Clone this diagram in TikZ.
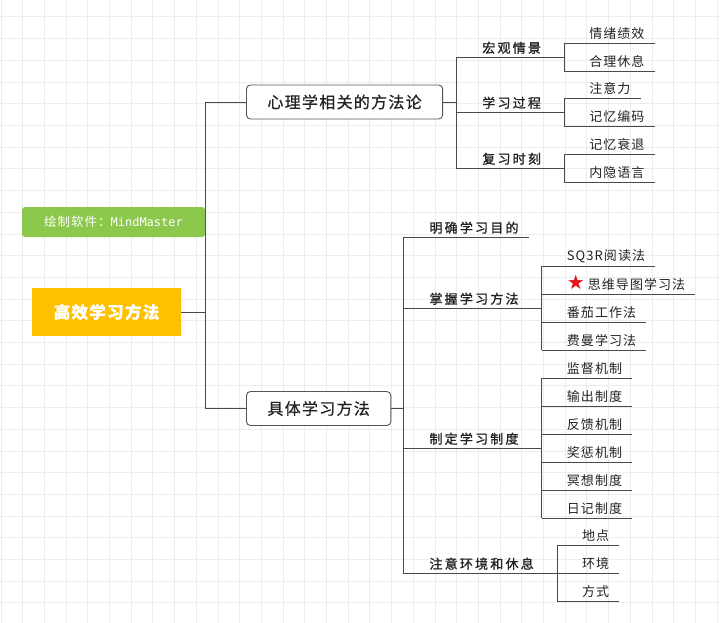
\documentclass[tikz,border=0pt]{standalone}
\usepackage{fontspec}
\usepackage{xcolor}
\usetikzlibrary{positioning, calc}
\newfontfamily\cjk[LetterSpace=8]{Noto Sans CJK SC}
\newfontfamily\cjktopic[LetterSpace=8, FakeBold=0.6]{Noto Sans CJK SC}
\newfontfamily\cjkbranch[LetterSpace=17, FakeBold=1.2]{Noto Sans CJK SC}
\newfontfamily\cjkleaf[LetterSpace=8]{Noto Sans CJK SC}
\newfontfamily\symfont{DejaVu Sans}
\setmonofont{DejaVu Sans Mono}
\definecolor{gridgray}{HTML}{EDEDED}
\definecolor{wiregray}{HTML}{4A4A4A}
\definecolor{boxgray}{HTML}{555555}
\definecolor{textdark}{HTML}{222222}
\definecolor{rootorange}{HTML}{FFC000}
\definecolor{notegreen}{HTML}{8CC84B}
\definecolor{starred}{HTML}{E3141E}

\begin{document}
\begin{tikzpicture}[x=1pt, y=-1pt,
  gridline/.style={draw=gridgray, line width=1pt},
  wire/.style={draw=wiregray, line width=0.9pt},
  rootbox/.style={fill=rootorange, text=white, minimum width=149pt,
    minimum height=48pt, font=\cjktopic\bfseries\fontsize{16.5}{18}\selectfont},
  notebox/.style={fill=notegreen, text=white, rounded corners=3pt,
    minimum width=183pt, minimum height=30pt, font=\cjk\fontsize{12.5}{14}\selectfont},
  mainbox/.style={draw=boxgray, line width=0.9pt, rounded corners=4pt, fill=white,
    inner xsep=21pt, minimum height=34pt, text=textdark,
    font=\cjktopic\fontsize{16}{18}\selectfont},
  branch/.style={anchor=south west, inner xsep=0pt, inner ysep=3pt, text=textdark,
    font=\cjkbranch\fontsize{13}{15}\selectfont,
    execute at begin node=\hspace*{26pt}, execute at end node=\hspace*{#1}},
  branch/.default=23pt,
  leaf/.style={anchor=south west, inner xsep=0pt, inner ysep=3pt, text=textdark,
    font=\cjkleaf\fontsize{13}{15}\selectfont,
    execute at begin node=\hspace*{25pt}, execute at end node=\hspace*{10pt}}
]
\useasboundingbox (0,0) rectangle (720,623);
% background grid
\foreach \i in {0,...,33}
  \draw[gridline] (1+21.7*\i,0) -- (1+21.7*\i,623);
\foreach \j in {0,...,29}
  \draw[gridline] (0,-4.7+21.7*\j) -- (720,-4.7+21.7*\j);

% main topics
\node[rootbox] (root) at (106.5,312) {高效学习方法};
\node[mainbox, anchor=west] (psy) at (246,102) {心理学相关的方法论};
\node[mainbox, anchor=west] (prac) at (246,408.5) {具体学习方法};
\coordinate (hub) at ([xshift=24pt]root.east);
\coordinate (psyfork) at ([xshift=13pt]psy.east);
\coordinate (pracfork) at ([xshift=12pt]prac.east);

% psychology branch
\node[branch] (macro) at (psyfork |- 0,57) {宏观情景};
\node[branch] (process) at (psyfork |- 0,112) {学习过程};
\node[branch] (review) at (psyfork |- 0,168) {复习时刻};
\node[leaf, yshift=14pt] (mood) at (macro.south east) {情绪绩效};
\node[leaf, yshift=-14pt] (relax) at (macro.south east) {合理休息};
\node[leaf, yshift=14pt] (focus) at (process.south east) {注意力};
\node[leaf, yshift=-14pt] (encode) at (process.south east) {记忆编码};
\node[leaf, yshift=14pt] (decay) at (review.south east) {记忆衰退};
\node[leaf, yshift=-14pt] (inner) at (review.south east) {内隐语言};

% practice branch
\node[branch=10pt] (goal) at (pracfork |- 0,237) {明确学习目的};
\node[branch] (master) at (pracfork |- 0,308) {掌握学习方法};
\node[branch] (system) at (pracfork |- 0,448) {制定学习制度};
\node[branch] (rest) at (pracfork |- 0,573) {注意环境和休息};
\node[leaf, yshift=42pt] (sqr) at (master.south east) {SQ3R阅读法};
\node[leaf, yshift=14pt] (mindmap) at (master.south east)
  {\smash{\textcolor{starred}{\symfont\fontsize{20}{20}\selectfont ★}}\hspace{3pt}思维导图学习法};
\node[leaf, yshift=-14pt] (tomato) at (master.south east) {番茄工作法};
\node[leaf, yshift=-42pt] (feynman) at (master.south east) {费曼学习法};
\node[leaf, yshift=70pt] (watch) at (system.south east) {监督机制};
\node[leaf, yshift=42pt] (output) at (system.south east) {输出制度};
\node[leaf, yshift=14pt] (feedback) at (system.south east) {反馈机制};
\node[leaf, yshift=-14pt] (reward) at (system.south east) {奖惩机制};
\node[leaf, yshift=-42pt] (medit) at (system.south east) {冥想制度};
\node[leaf, yshift=-70pt] (diary) at (system.south east) {日记制度};
\node[leaf, yshift=28pt] (place) at (rest.south east) {地点};
\node[leaf] (surround) at (rest.south east) {环境};
\node[leaf, yshift=-28pt] (manner) at (rest.south east) {方式};

% connectors
\draw[wire] (root.east) -- (hub);
\draw[wire] (psy.west) -| (hub) |- (prac.west);
\draw[wire] (psy.east) -- (psyfork);
\draw[wire] (prac.east) -- (pracfork);
\draw[wire] (macro.south west) -- (review.south west);
\draw[wire] (goal.south west) -- (rest.south west);
\draw[wire] (mood.south west) -- (relax.south west);
\draw[wire] (focus.south west) -- (encode.south west);
\draw[wire] (decay.south west) -- (inner.south west);
\draw[wire] (sqr.south west) -- (feynman.south west);
\draw[wire] (watch.south west) -- (diary.south west);
\draw[wire] (place.south west) -- (manner.south west);
\foreach \n in {macro,process,review,goal,master,system,rest,
    mood,relax,focus,encode,decay,inner,sqr,mindmap,tomato,feynman,
    watch,output,feedback,reward,medit,diary,place,surround,manner}
  \draw[wire] (\n.south west) -- (\n.south east);

% note
\node[notebox] (note) at (113.5,222) {绘制软件：{\ttfamily\fontsize{12}{14}\selectfont MindMaster}};
\end{tikzpicture}
\end{document}
